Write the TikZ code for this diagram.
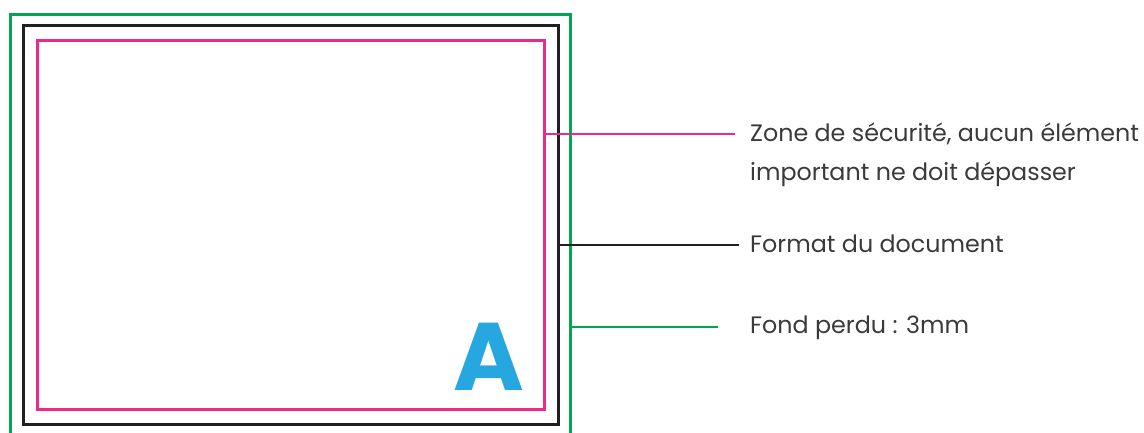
\documentclass[tikz,border=0pt]{standalone}
\usepackage{fontspec}
\setmainfont{Poppins}
\definecolor{grn}{HTML}{00A650}
\definecolor{pnk}{HTML}{EC2A8A}
\definecolor{blk}{HTML}{231F20}
\definecolor{blu}{HTML}{27A7DF}
\definecolor{txt}{HTML}{3A3A3A}
\begin{document}
\begin{tikzpicture}[x=1pt,y=-1pt,
  frame/.style={line width=3pt},
  leader/.style={line width=2.6pt},
  lbl/.style={anchor=west,inner sep=0pt,text=txt,font=\fontsize{23.8}{39.5}\selectfont,align=left}]
\useasboundingbox (0,0) rectangle (1144,432);
\draw[frame,grn] (10,445) -- (10,14) -- (570,14) -- (570,445);
\draw[frame,blk] (23.5,25.5) rectangle (558,424);
\draw[frame,pnk] (37.5,40.5) rectangle (544,409);
\node[inner sep=0pt,text=blu,font=\fontsize{96}{96}\bfseries\selectfont] (A) at (489,357) {A};
\coordinate (p0) at (544,134);
\coordinate (b0) at (558,245);
\coordinate (g0) at (570,327);
\node[lbl] (tp) at (750,155) {Zone de sécurité, aucun élément\\important ne doit dépasser};
\node[lbl] (tb) at (750,244) {Format du document};
\node[lbl] (tg) at (750,328) {Fond perdu : 3mm};
\draw[leader,pnk] (p0) -- (735,134);
\draw[leader,blk] (b0) -- (739,245);
\draw[leader,grn] (g0) -- (718,327);
\end{tikzpicture}
\end{document}
